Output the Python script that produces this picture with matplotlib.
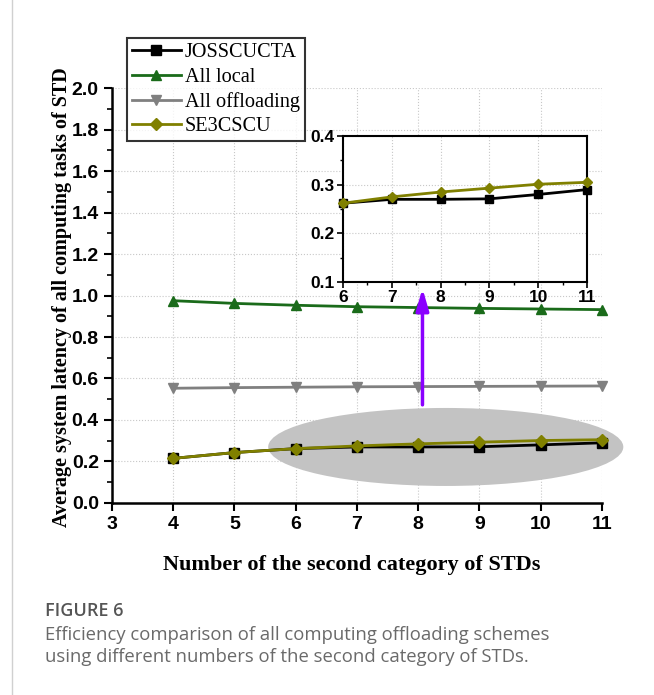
import matplotlib.pyplot as plt
from matplotlib.patches import Ellipse
from matplotlib.ticker import MultipleLocator

# ── Data ──────────────────────────────────────────────────────────────────────
n_std = [4, 5, 6, 7, 8, 9, 10, 11]
josscucta = [0.215, 0.243, 0.262, 0.270, 0.270, 0.271, 0.280, 0.290]
all_local = [0.975, 0.962, 0.953, 0.946, 0.942, 0.938, 0.935, 0.932]
all_offloading = [0.553, 0.556, 0.558, 0.560, 0.561, 0.562, 0.563, 0.564]
se3cscu = [0.215, 0.243, 0.262, 0.275, 0.285, 0.293, 0.301, 0.305]

# ── Style ─────────────────────────────────────────────────────────────────────
BLACK = "#000000"
GREEN = "#1a6b1a"
GREY = "#808080"
OLIVE = "#808000"
PURPLE = "#8a00ff"
SERIF = "Liberation Serif"
SANS = "Liberation Sans"

plt.rcParams.update({
    "font.family": SANS,
    "font.weight": "bold",
})

series = [
    ("JOSSCUCTA", josscucta, BLACK, "s"),
    ("All local", all_local, GREEN, "^"),
    ("All offloading", all_offloading, GREY, "v"),
    ("SE3CSCU", se3cscu, OLIVE, "D"),
]

fig = plt.figure(figsize=(6.54, 6.95), dpi=100)
ax = fig.add_axes([0.1713, 0.2763, 0.749, 0.597])

lines = []
for name, vals, col, mk in series:
    ms = 6 if mk == "D" else 7
    (ln,) = ax.plot(n_std, vals, color=col, marker=mk, markersize=ms,
                    linewidth=2, label=name, zorder=4, clip_on=False)
    lines.append(ln)

# highlight ellipse + arrow to the zoomed inset
ax.add_patch(Ellipse((8.45, 0.27), 5.8, 0.376, facecolor="#c3c3c3",
                     edgecolor="none", zorder=2, clip_on=False))
ax.annotate("", xy=(8.07, 1.034), xytext=(8.07, 0.473),
            arrowprops=dict(arrowstyle="-|>,head_width=0.38,head_length=1.3",
                            color=PURPLE, lw=2.5, shrinkA=0, shrinkB=0), zorder=5)

ax.set_xlim(3, 11)
ax.set_ylim(0, 2.0)
ax.xaxis.set_major_locator(MultipleLocator(1))
ax.yaxis.set_major_locator(MultipleLocator(0.2))
ax.yaxis.set_minor_locator(MultipleLocator(0.1))
ax.grid(True, which="major", linestyle=":", color="#c8c8c8", linewidth=0.8, zorder=0)
for s in ["top", "right"]:
    ax.spines[s].set_visible(False)
for s in ["left", "bottom"]:
    ax.spines[s].set_linewidth(1.8)
ax.tick_params(axis="both", which="major", direction="out", length=6, width=1.5,
               labelsize=14)
ax.tick_params(axis="y", which="minor", direction="out", length=3.5, width=1.2)
for lab in ax.get_xticklabels() + ax.get_yticklabels():
    lab.set_fontproperties({"family": SANS, "weight": "bold", "size": 14})

ax.set_xlabel("Number of the second category of STDs", fontfamily=SERIF,
              fontweight="bold", fontsize=16)
ax.xaxis.set_label_coords(0.49, -0.125)
ax.set_ylabel("Average system latency of all computing tasks of STD", fontfamily=SERIF,
              fontweight="bold", fontsize=14.5)
ax.yaxis.set_label_coords(-0.082, 0.495)

leg = fig.legend(handles=lines, loc="upper left", bbox_to_anchor=(0.194, 0.945),
                 prop={"family": SERIF, "size": 14.6, "weight": "normal"}, frameon=True,
                 fancybox=False, edgecolor=BLACK, handlelength=2.4, handletextpad=0.2,
                 labelspacing=0.25, borderpad=0.25, borderaxespad=0)
leg.get_frame().set_linewidth(1.5)

# ── Inset ─────────────────────────────────────────────────────────────────────
ins = fig.add_axes([0.5245, 0.5942, 0.373, 0.21])
ins.set_facecolor("white")
for name, vals, col, mk in series:
    if name in ("JOSSCUCTA", "SE3CSCU"):
        ms = 5.5 if mk == "D" else 6
        ins.plot(n_std[2:], vals[2:], color=col, marker=mk, markersize=ms,
                 linewidth=2, clip_on=False, zorder=4)
ins.set_xlim(6, 11)
ins.set_ylim(0.1, 0.4)
ins.xaxis.set_major_locator(MultipleLocator(1))
ins.yaxis.set_major_locator(MultipleLocator(0.1))
ins.yaxis.set_minor_locator(MultipleLocator(0.05))
ins.xaxis.set_minor_locator(MultipleLocator(0.5))
ins.grid(True, which="major", linestyle=":", color="#c8c8c8", linewidth=0.8)
for s in ins.spines.values():
    s.set_linewidth(1.5)
ins.tick_params(axis="both", which="major", direction="out", length=4, width=1.2,
                labelsize=12.5, pad=2)
ins.tick_params(axis="both", which="minor", direction="out", length=2.5, width=1)
for lab in ins.get_xticklabels() + ins.get_yticklabels():
    lab.set_fontproperties({"family": SANS, "weight": "bold", "size": 12.5})

# ── Caption ───────────────────────────────────────────────────────────────────
fig.add_artist(plt.Line2D([0.019, 0.019], [0.0, 1.0], color="#d0d0d0", linewidth=1))
fig.text(0.069, 0.114, "FIGURE 6", fontfamily="Open Sans", fontweight="semibold",
         fontsize=13, color="#555555", va="baseline")
fig.text(0.069, 0.079, "Efficiency comparison of all computing offloading schemes",
         fontfamily="Open Sans", fontweight="normal", fontsize=13.3, color="#6a6a6a",
         va="baseline")
fig.text(0.069, 0.047, "using different numbers of the second category of STDs.",
         fontfamily="Open Sans", fontweight="normal", fontsize=13.3, color="#6a6a6a",
         va="baseline")

plt.savefig("out.png", dpi=100)
